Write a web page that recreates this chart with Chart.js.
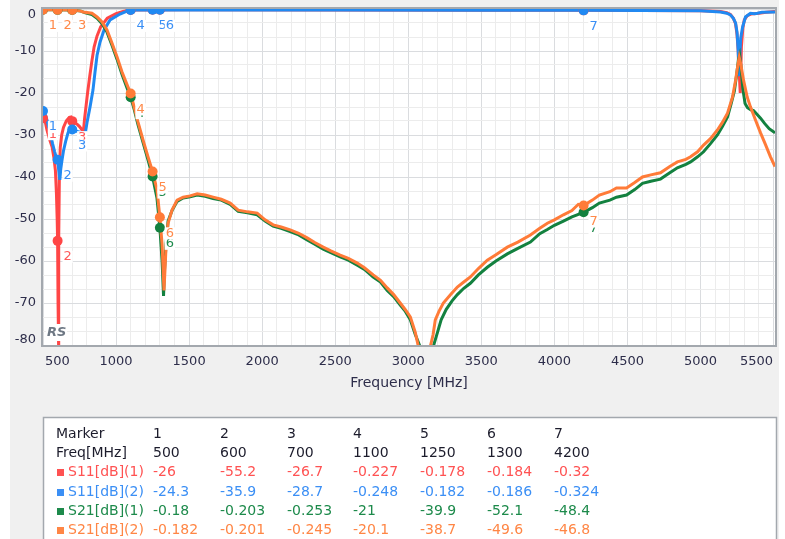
<!DOCTYPE html>
<html>
<head>
<meta charset="utf-8">
<script src="https://cdn.jsdelivr.net/npm/chart.js@4.4.1/dist/chart.umd.min.js"></script>
<style>
  html, body { margin: 0; padding: 0; background: #ffffff; }
  #wrap { width: 785px; height: 539px; }
</style>
</head>
<body>
<div id="wrap"><canvas id="chart" width="785" height="539"></canvas></div>
<script>
// traces (MHz / dB)
const s11aFreq = [500, 515, 527, 545, 562, 575, 585, 592, 597, 600, 603, 606, 609, 612, 618, 628, 640, 660, 680, 692, 700, 715, 733, 750, 767, 776, 785, 795, 805, 820, 835, 850, 870, 895, 940, 1000, 1048, 1100, 1500, 2500, 3500, 4200, 5000, 5137, 5180, 5205, 5225, 5240, 5250, 5258, 5265, 5272, 5280, 5290, 5300, 5320, 5345, 5400, 5450, 5510];
const s11aDb = [-26, -26.8, -28.8, -31, -32.8, -35.5, -38.5, -44, -50, -55.2, -70, -82, -55, -40, -33, -30, -28.2, -26.6, -25.8, -25.7, -26.5, -27, -27.4, -28, -28.8, -29.3, -26, -23, -20, -16, -12.3, -9, -6.4, -4.2, -2.2, -1.1, -0.6, -0.23, -0.2, -0.25, -0.3, -0.32, -0.4, -0.6, -0.9, -1.3, -2.2, -3.5, -6, -10, -15, -20, -9, -4.5, -2.6, -1.6, -1.2, -1, -0.8, -0.6];

const s11bFreq = [500, 520, 535, 550, 565, 580, 590, 600, 608, 615, 622, 630, 640, 655, 671, 685, 700, 720, 740, 760, 780, 790, 801, 822, 842, 856, 870, 890, 918, 959, 1027, 1075, 1100, 1500, 2500, 3500, 4200, 5000, 5137, 5180, 5205, 5225, 5240, 5250, 5258, 5263, 5268, 5275, 5288, 5308, 5342, 5370, 5390, 5420, 5510];
const s11bDb = [-24.3, -25.5, -27.5, -29.5, -32, -34, -35.2, -35.9, -38.5, -40.7, -38, -36, -33.8, -31.5, -29.5, -28.3, -28.7, -29, -29.2, -29.4, -29.6, -29.5, -27.1, -23.3, -19.3, -15, -11, -7.9, -5, -2.6, -1.2, -0.5, -0.25, -0.22, -0.26, -0.3, -0.324, -0.4, -0.7, -1, -1.4, -2.2, -3.3, -5.5, -9.8, -16, -12, -7, -4.3, -1.9, -1, -1.1, -1, -0.8, -0.7];

const s21aFreq = [500, 600, 700, 760, 790, 835, 870, 904, 938, 972, 1007, 1041, 1075, 1100, 1125, 1150, 1185, 1219, 1250, 1280, 1300, 1315, 1325, 1332, 1342, 1356, 1383, 1418, 1459, 1507, 1555, 1610, 1664, 1720, 1781, 1836, 1900, 1966, 2020, 2075, 2130, 2192, 2250, 2308, 2360, 2418, 2470, 2534, 2590, 2651, 2700, 2760, 2810, 2856, 2900, 2945, 2980, 3014, 3048, 3082, 3170, 3200, 3225, 3260, 3300, 3336, 3380, 3425, 3480, 3541, 3600, 3678, 3750, 3836, 3900, 3952, 4000, 4062, 4120, 4200, 4260, 4308, 4380, 4425, 4494, 4550, 4603, 4660, 4726, 4790, 4842, 4900, 4932, 4980, 5021, 5070, 5116, 5150, 5185, 5210, 5232, 5248, 5260, 5268, 5278, 5290, 5305, 5322, 5345, 5363, 5385, 5411, 5440, 5470, 5510];
const s21aDb = [-0.18, -0.2, -0.25, -0.5, -0.9, -1.3, -2.2, -3.5, -5.5, -8.6, -12, -15.6, -18.8, -21, -24, -27.5, -31.8, -36, -39.9, -45, -52.1, -60, -68.3, -62, -56, -50.5, -48, -45.8, -45, -44.7, -44.3, -44.6, -45.1, -45.5, -46.5, -48.2, -48.5, -49, -50.5, -51.7, -52.2, -53, -53.8, -55, -56, -57.2, -58, -59, -59.8, -61, -62, -63.8, -65, -67, -68.5, -70.5, -72, -74, -77.5, -80.5, -80.5, -77, -74, -71.5, -69.5, -68, -66.5, -65.3, -63.3, -61.5, -60, -58.3, -57, -55.5, -53.5, -52.5, -51.5, -50.5, -49.5, -48.4, -47.3, -46.2, -45.5, -44.8, -44.3, -43, -41.5, -41, -40.5, -39, -37.8, -37, -36.4, -35.2, -34, -32, -30, -28, -25.7, -22.5, -19.5, -15.5, -12, -11, -14, -19, -22.5, -23.5, -24, -24.2, -25, -26, -27.3, -28.5, -29.5];

const s21bFreq = [500, 600, 700, 760, 774, 835, 870, 904, 938, 972, 1007, 1041, 1075, 1100, 1125, 1150, 1185, 1219, 1250, 1280, 1300, 1315, 1328, 1335, 1342, 1356, 1383, 1418, 1459, 1507, 1555, 1610, 1664, 1720, 1781, 1836, 1900, 1966, 2020, 2075, 2130, 2192, 2250, 2308, 2360, 2418, 2470, 2534, 2590, 2651, 2700, 2760, 2810, 2856, 2900, 2945, 2980, 3014, 3048, 3070, 3150, 3170, 3185, 3210, 3240, 3290, 3336, 3380, 3425, 3480, 3541, 3600, 3678, 3750, 3836, 3900, 3952, 4000, 4062, 4120, 4164, 4200, 4260, 4308, 4380, 4425, 4494, 4550, 4603, 4660, 4726, 4790, 4842, 4900, 4932, 4980, 5021, 5070, 5116, 5150, 5185, 5219, 5240, 5255, 5265, 5275, 5295, 5320, 5342, 5375, 5411, 5445, 5479, 5510];
const s21bDb = [-0.182, -0.201, -0.245, -0.5, -0.7, -1, -1.9, -3.1, -5, -8.1, -11.4, -15, -18, -20.1, -23.5, -26.9, -31.2, -35.2, -38.7, -43, -49.6, -56, -67, -62, -56.7, -51, -47.9, -45.5, -44.8, -44.5, -44, -44.3, -44.8, -45.3, -46.2, -47.9, -48.3, -48.6, -50.2, -51.4, -51.9, -52.6, -53.4, -54.5, -55.6, -56.7, -57.6, -58.6, -59.4, -60.5, -61.6, -63.3, -64.6, -66.4, -68, -70, -71.6, -73.3, -77, -80.5, -80.5, -77.5, -74, -72, -70, -68, -66.2, -65, -63.8, -61.8, -59.8, -58.5, -56.7, -55.5, -53.8, -52.2, -51, -50.2, -49, -48, -46.5, -46.8, -45.5, -44.3, -43.5, -42.6, -42.6, -41.3, -40, -39.5, -39, -37.5, -36.4, -35.8, -35.2, -34, -32.4, -30.8, -28.8, -27, -24.8, -21, -17, -13.5, -11.5, -13, -17, -21, -23.3, -26.3, -29.5, -32.3, -35.2, -37.5];

// marker table
const markerIds = ['1', '2', '3', '4', '5', '6', '7'];
const markerFreq = [500, 600, 700, 1100, 1250, 1300, 4200];
const s11aMarkers = [-26, -55.2, -26.7, -0.227, -0.178, -0.184, -0.32];
const s11bMarkers = [-24.3, -35.9, -28.7, -0.248, -0.182, -0.186, -0.324];
const s21aMarkers = [-0.18, -0.203, -0.253, -21, -39.9, -52.1, -48.4];
const s21bMarkers = [-0.182, -0.201, -0.245, -20.1, -38.7, -49.6, -46.8];

const xTickLabels = [500, 1000, 1500, 2000, 2500, 3000, 3500, 4000, 4500, 5000, 5500];
const yTickLabels = [0, -10, -20, -30, -40, -50, -60, -70, -80];

const series = [
  { name: 'S11[dB](1)', freq: s11aFreq, db: s11aDb, markers: s11aMarkers, line: '#ff4646', text: '#ff5252', label: '#ff5a5a' },
  { name: 'S11[dB](2)', freq: s11bFreq, db: s11bDb, markers: s11bMarkers, line: '#2089f2', text: '#3b8ff5', label: '#3a8ff5' },
  { name: 'S21[dB](1)', freq: s21aFreq, db: s21aDb, markers: s21aMarkers, line: '#13813f', text: '#1d8a4b', label: '#1d8a4b' },
  { name: 'S21[dB](2)', freq: s21bFreq, db: s21bDb, markers: s21bMarkers, line: '#ff7b38', text: '#ff8645', label: '#ff8a4a' }
];

const datasets = [];
series.forEach((s, i) => {
  datasets.push({
    data: s.freq.map((f, k) => ({ x: f, y: s.db[k] })),
    showLine: true,
    borderColor: s.line,
    borderWidth: 3,
    pointRadius: 0,
    clip: 0,
    order: 8 - i
  });
});
series.forEach((s, i) => {
  datasets.push({
    data: markerFreq.map((f, k) => ({ x: f, y: s.markers[k] })),
    showLine: false,
    pointRadius: 5,
    pointBorderWidth: 0,
    pointBackgroundColor: s.line,
    clip: 0,
    order: 4 - i
  });
});

const font = '"DejaVu Sans", Verdana, sans-serif';

const frame = {
  id: 'frame',
  beforeDraw(chart) {
    const { ctx, chartArea: a } = chart;
    ctx.save();
    ctx.fillStyle = '#ffffff';
    ctx.fillRect(0, 0, chart.width, chart.height);
    ctx.fillStyle = '#f0f0f0';
    ctx.fillRect(10, 0, 769, chart.height);
    ctx.fillStyle = '#ffffff';
    ctx.fillRect(a.left, a.top, a.right - a.left, a.bottom - a.top);
    ctx.restore();
  },
  afterDatasetsDraw(chart) {
    const { ctx, chartArea: a, scales: { x, y } } = chart;
    ctx.save();
    ctx.beginPath();
    ctx.rect(a.left, a.top, a.right - a.left, a.bottom - a.top);
    ctx.clip();
    ctx.font = '13px ' + font;
    ctx.textAlign = 'center';
    ctx.textBaseline = 'middle';
    // marker numbers, below right of each marker, on a white patch
    series.forEach(s => {
      s.markers.forEach((v, k) => {
        const px = x.getPixelForValue(markerFreq[k]) + 10;
        const py = y.getPixelForValue(v) + 16;
        const w = ctx.measureText(markerIds[k]).width;
        ctx.fillStyle = '#ffffff';
        ctx.fillRect(px - w / 2 - 1, py - 6, w + 2, 12);
        ctx.fillStyle = s.label;
        ctx.fillText(markerIds[k], px, py);
      });
    });
    // RS logo
    ctx.fillStyle = '#ffffff';
    ctx.fillRect(a.left + 3, a.bottom - 21, 21, 17);
    ctx.font = 'italic bold 13px ' + font;
    ctx.fillStyle = '#6e7884';
    ctx.textAlign = 'left';
    ctx.fillText('RS', a.left + 4, a.bottom - 12);
    ctx.restore();
  },
  afterDraw(chart) {
    const { ctx, chartArea: a, scales: { x, y } } = chart;
    ctx.save();
    ctx.strokeStyle = '#a3a8ae';
    ctx.lineWidth = 2;
    ctx.strokeRect(a.left - 1, a.top - 1, a.right - a.left + 2, a.bottom - a.top + 2);

    ctx.font = '13px ' + font;
    ctx.fillStyle = '#2d2d4a';
    ctx.textBaseline = 'middle';
    ctx.textAlign = 'right';
    yTickLabels.forEach(v => {
      const py = Math.min(Math.max(y.getPixelForValue(v), a.top + 6), a.bottom - 5);
      ctx.fillText(String(v), 36, py);
    });
    ctx.textAlign = 'center';
    xTickLabels.forEach(v => {
      const w = ctx.measureText(String(v)).width;
      const px = Math.min(Math.max(x.getPixelForValue(v), a.left + w / 2 + 2), a.right - w / 2 - 2);
      ctx.fillText(String(v), px, 362);
    });
    ctx.font = '14px ' + font;
    ctx.fillText('Frequency [MHz]', (a.left + a.right) / 2, 383);

    // marker table
    const tx = 43, ty = 417;
    ctx.fillStyle = '#ffffff';
    ctx.fillRect(tx, ty, 734, 140);
    ctx.strokeStyle = '#a3a8ae';
    ctx.lineWidth = 1.5;
    ctx.strokeRect(tx + 0.5, ty + 0.5, 733, 140);
    const colX = [153, 220, 287, 353, 420, 487, 554];
    const rowY = [434, 453, 472, 492, 511, 530];
    ctx.textAlign = 'left';
    ctx.fillStyle = '#1c1c2c';
    ctx.fillText('Marker', 56, rowY[0]);
    ctx.fillText('Freq[MHz]', 56, rowY[1]);
    markerIds.forEach((m, k) => {
      ctx.fillText(m, colX[k], rowY[0]);
      ctx.fillText(String(markerFreq[k]), colX[k], rowY[1]);
    });
    series.forEach((s, r) => {
      const ry = rowY[r + 2];
      ctx.fillStyle = s.text;
      ctx.fillRect(57, ry - 3, 7, 7);
      ctx.save();
      ctx.beginPath();
      ctx.rect(66, ry - 10, 80, 20);
      ctx.clip();
      ctx.fillText(s.name, 68, ry);
      ctx.restore();
      s.markers.forEach((v, k) => ctx.fillText(String(v), colX[k], ry));
    });
    ctx.restore();
  }
};

function gridColor(major) {
  return major ? '#dadcdf' : '#ececec';
}

new Chart(document.getElementById('chart'), {
  type: 'scatter',
  data: { datasets },
  options: {
    responsive: false,
    animation: false,
    events: [],
    layout: { padding: { left: 43, top: 9, right: 10, bottom: 194 } },
    plugins: { legend: { display: false }, tooltip: { enabled: false } },
    scales: {
      x: {
        type: 'linear',
        min: 500,
        max: 5510,
        afterBuildTicks(scale) {
          const t = [];
          for (let v = 500; v <= 5500; v += 100) t.push({ value: v });
          scale.ticks = t;
        },
        ticks: { display: false },
        border: { display: false },
        grid: {
          drawTicks: false,
          lineWidth: 1,
          color: c => gridColor(c.tick && c.tick.value % 500 === 0)
        }
      },
      y: {
        type: 'linear',
        min: -80,
        max: 0,
        afterBuildTicks(scale) {
          const t = [];
          for (let k = 0; k <= 24; k++) t.push({ value: -80 + k * 10 / 3 });
          scale.ticks = t;
        },
        ticks: { display: false },
        border: { display: false },
        grid: {
          drawTicks: false,
          lineWidth: 1,
          color: c => gridColor(c.tick && Math.abs(c.tick.value % 10) < 0.01)
        }
      }
    }
  },
  plugins: [frame]
});
</script>
</body>
</html>
